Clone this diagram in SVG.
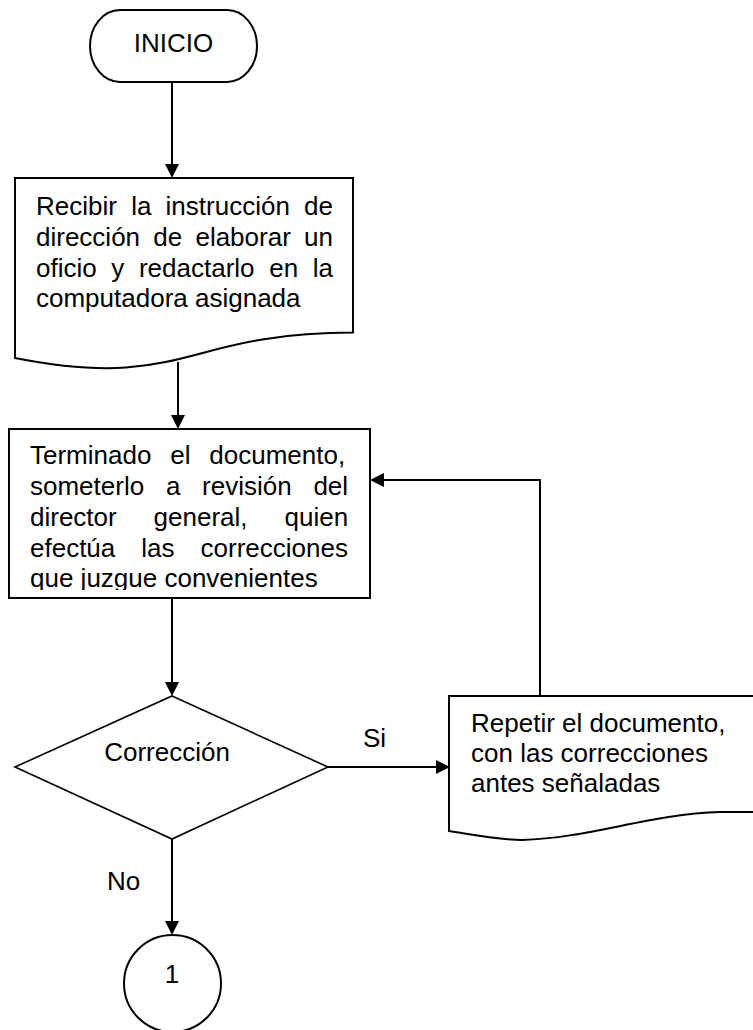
<svg xmlns="http://www.w3.org/2000/svg" width="753" height="1030" viewBox="0 0 753 1030">
  <style>
    .shape { fill: #ffffff; stroke: #000000; stroke-width: 2; }
    .txt { font-family: "Liberation Sans", Arial, sans-serif; font-size: 26px; fill: #000000; }
    .mid { text-anchor: middle; }
    .conn { fill: none; stroke: #000000; stroke-width: 2; marker-end: url(#arrow); }
  </style>
  <defs>
    <marker id="arrow" markerUnits="userSpaceOnUse" markerWidth="14" markerHeight="14" refX="10" refY="7" orient="auto">
      <path d="M0,0 L14,7 L0,14 Z" fill="#000000"/>
    </marker>
    <clipPath id="clip2">
      <rect x="10" y="430" width="360" height="160"/>
    </clipPath>
  </defs>

  <rect width="753" height="1030" fill="#ffffff"/>

  <g id="connectors">
    <path class="conn" d="M172,82 V174"/>
    <path class="conn" d="M178,362 V425"/>
    <path class="conn" d="M172,598 V692"/>
    <path class="conn" d="M328,767 H446"/>
    <path class="conn" d="M172,839 V931"/>
    <path class="conn" d="M540,696 V480 H374"/>
    <text class="txt" x="363" y="747">Si</text>
    <text class="txt" x="107" y="890">No</text>
  </g>

  <g id="inicio">
    <rect class="shape" x="90" y="10" width="167" height="72" rx="30" ry="36"/>
    <text class="txt mid" x="173.5" y="52">INICIO</text>
  </g>

  <g id="recibir">
    <path class="shape" d="M15,178 H353 V332.5 C184,332.5 184,391.4 15,358 Z"/>
    <text class="txt" x="36" y="215" word-spacing="7.0">Recibir la instrucción de</text>
    <text class="txt" x="36" y="246" word-spacing="6.0">dirección de elaborar un</text>
    <text class="txt" x="36" y="277" word-spacing="7.4">oficio y redactarlo en la</text>
    <text class="txt" x="36" y="307">computadora asignada</text>
  </g>

  <g id="terminado">
    <rect class="shape" x="9" y="429" width="361" height="169"/>
    <g clip-path="url(#clip2)">
      <text class="txt" x="30" y="464" word-spacing="11.6">Terminado el documento,</text>
      <text class="txt" x="30" y="495" word-spacing="14.5">someterlo a revisión del</text>
      <text class="txt" x="30" y="526" word-spacing="29.7">director general, quien</text>
      <text class="txt" x="30" y="557" word-spacing="18.8">efectúa las correcciones</text>
      <text class="txt" x="30" y="587">que juzgue convenientes</text>
    </g>
  </g>

  <g id="correccion">
    <path class="shape" style="stroke-width:1.6" d="M172,696 L328,767 L172,839 L15,767 Z"/>
    <text class="txt mid" x="167" y="761">Corrección</text>
  </g>

  <g id="repetir">
    <path class="shape" d="M449,696 H790 V812 H720 C650,814 590,838 522,840 C500,840 480,836 449,831 Z"/>
    <text class="txt" x="471" y="732">Repetir el documento,</text>
    <text class="txt" x="471" y="762">con las correcciones</text>
    <text class="txt" x="471" y="792">antes señaladas</text>
  </g>

  <g id="conector1">
    <circle class="shape" cx="172.5" cy="983.5" r="48.5"/>
    <text class="txt mid" x="172" y="983">1</text>
  </g>
</svg>
